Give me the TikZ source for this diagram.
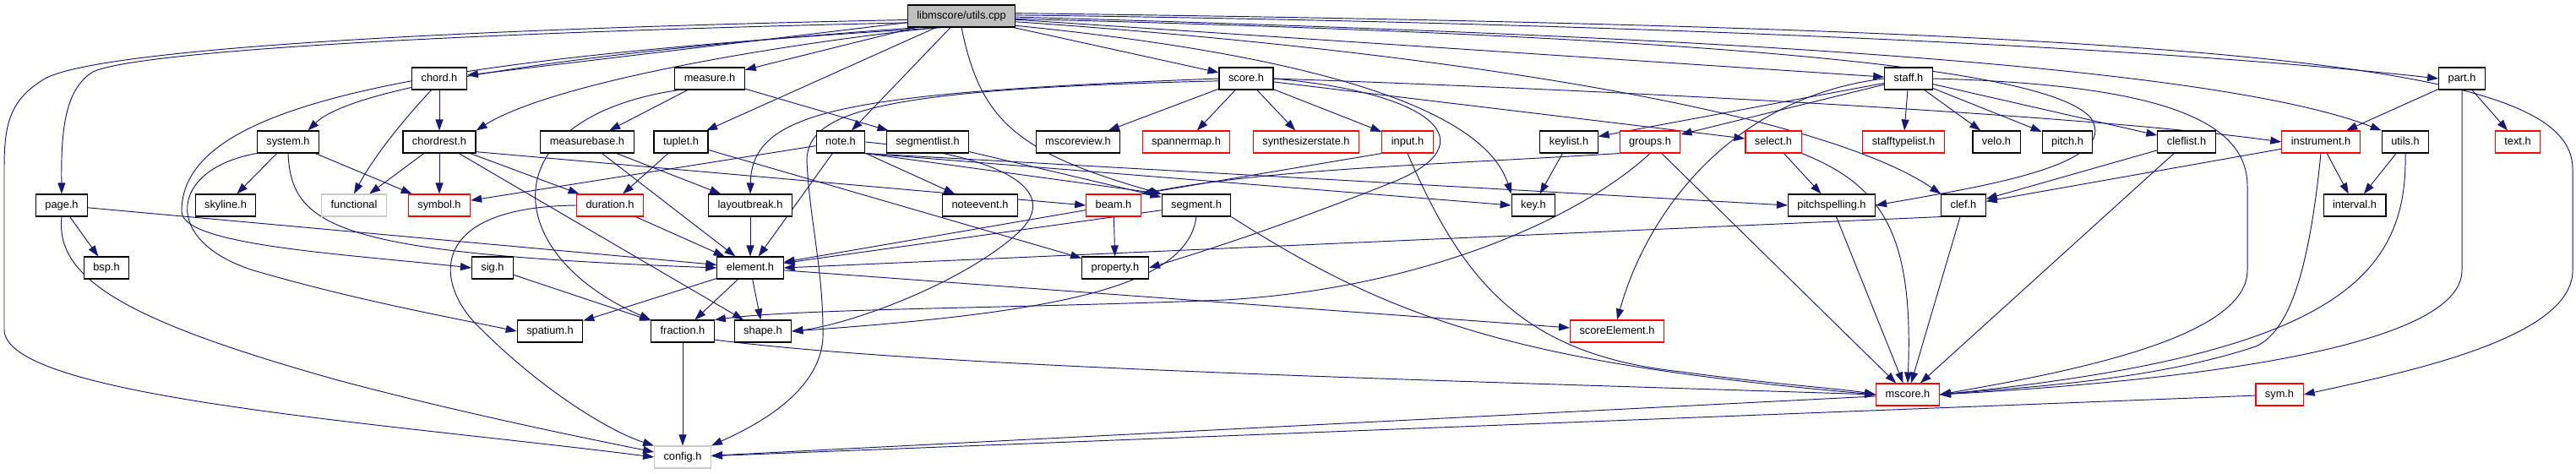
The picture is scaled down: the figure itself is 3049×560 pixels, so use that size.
\documentclass[tikz,border=0pt]{standalone}
\usepackage{fontspec}
\setmainfont{Liberation Sans}
\usepackage{xcolor}
\usepackage{tikz}
\usetikzlibrary{arrows.meta,positioning,calc,backgrounds}

\definecolor{edgeblue}{RGB}{25,25,112}
\definecolor{rootgray}{RGB}{191,191,191}
\definecolor{extgray}{RGB}{200,200,200}

\begin{document}
\begin{tikzpicture}[
    x=1pt, y=-1pt,
    font=\fontsize{12.8}{15}\selectfont,
    filecell/.style={rectangle, draw=black, fill=white, line width=1.1pt, minimum height=26pt,
      inner xsep=11pt, inner ysep=0pt, text height=9.5pt, text depth=2.7pt},
    redcell/.style={filecell, draw=red},
    extcell/.style={filecell, draw=extgray},
    rootcell/.style={filecell, fill=rootgray},
    arrow/.style={-{Triangle[length=13pt,width=9pt]}, draw=edgeblue, line width=0.95pt}
]
\useasboundingbox (0,0) rectangle (3049,560);

% root
\node[rootcell] (utilscpp) at (1138,19) {libmscore/utils.cpp};

% first row
\node[filecell] (chordh) at (520,93) {chord.h};
\node[filecell] (measureh) at (840,93) {measure.h};
\node[filecell] (scoreh) at (1475,93) {score.h};
\node[filecell] (staffh) at (2259,93) {staff.h};
\node[filecell] (parth) at (2914,93) {part.h};

% second row
\node[filecell] (systemh) at (341,168) {system.h};
\node[filecell] (chordresth) at (520,168) {chordrest.h};
\node[filecell] (measurebaseh) at (695,168) {measurebase.h};
\node[filecell] (tupleth) at (806,168) {tuplet.h};
\node[filecell] (noteh) at (995,168) {note.h};
\node[filecell] (segmentlisth) at (1098,168) {segmentlist.h};
\node[filecell] (mscoreviewh) at (1276,168) {mscoreview.h};
\node[redcell] (spannermaph) at (1404,168) {spannermap.h};
\node[redcell] (synthstateh) at (1546,168) {synthesizerstate.h};
\node[redcell] (inputh) at (1666,168) {input.h};
\node[filecell] (keylisth) at (1857,168) {keylist.h};
\node[redcell] (groupsh) at (1953,168) {groups.h};
\node[redcell] (selecth) at (2099,168) {select.h};
\node[redcell] (stafftypelisth) at (2253,168) {stafftypelist.h};
\node[filecell] (veloh) at (2363,168) {velo.h};
\node[filecell] (pitchh) at (2447,168) {pitch.h};
\node[filecell] (cleflisth) at (2588,168) {cleflist.h};
\node[redcell] (instrumenth) at (2747,168) {instrument.h};
\node[filecell] (utilshh) at (2847,168) {utils.h};
\node[redcell] (texth) at (2980,168) {text.h};

% third row
\node[filecell] (pageh) at (73,243) {page.h};
\node[filecell] (skylineh) at (267,243) {skyline.h};
\node[extcell] (functional) at (419,243) {functional};
\node[redcell] (symbolh) at (520,243) {symbol.h};
\node[redcell] (durationh) at (722,243) {duration.h};
\node[filecell] (layoutbreakh) at (888,243) {layoutbreak.h};
\node[filecell] (noteeventh) at (1160,243) {noteevent.h};
\node[redcell] (beamh) at (1318,243) {beam.h};
\node[filecell] (segmenth) at (1416,243) {segment.h};
\node[filecell] (keyh) at (1815,243) {key.h};
\node[filecell] (pitchspellingh) at (2168,243) {pitchspelling.h};
\node[filecell] (clefh) at (2324,243) {clef.h};
\node[filecell] (intervalh) at (2787,243) {interval.h};

% fourth row
\node[filecell] (bsph) at (126,317) {bsp.h};
\node[filecell] (sigh) at (583,317) {sig.h};
\node[filecell] (elementh) at (888,317) {element.h};
\node[filecell] (propertyh) at (1320,317) {property.h};

% fifth row
\node[filecell] (spatiumh) at (651,392) {spatium.h};
\node[filecell] (fractionh) at (808,392) {fraction.h};
\node[filecell] (shapeh) at (903,392) {shape.h};
\node[redcell] (scoreelementh) at (1914,392) {scoreElement.h};

% bottom rows
\node[redcell] (mscoreh) at (2258,467) {mscore.h};
\node[redcell] (symh) at (2698,467) {sym.h};
\node[extcell] (configh) at (808,541) {config.h};

\begin{scope}[on background layer]
% utils.cpp includes
\draw[arrow] (utilscpp.184) .. controls (500,35) and (100,60) .. (50,95) .. controls (10,120) and (5,150) .. (5,200) -- (5,390) .. controls (5,470) and (450,500) .. (configh.west);
\draw[arrow] (utilscpp.187) .. controls (500,40) and (160,62) .. (110,85) .. controls (78,105) and (72,150) .. (pageh.north);
\draw[arrow] (utilscpp.195) .. controls (700,60) and (420,100) .. (systemh.30);
\draw[arrow] (utilscpp) -- (chordh);
\draw[arrow] (utilscpp.205) .. controls (900,55) and (650,100) .. (chordresth.north east);
\draw[arrow] (utilscpp.212) .. controls (500,70) and (215,120) .. (215,250) .. controls (215,290) and (400,300) .. (sigh.west);
\draw[arrow] (utilscpp) -- (measureh);
\draw[arrow] (utilscpp) -- (tupleth);
\draw[arrow] (utilscpp) -- (noteh);
\draw[arrow] (utilscpp.south) .. controls (1160,140) and (1200,180) .. (segmenth.north west);
\draw[arrow] (utilscpp) -- (scoreh);
\draw[arrow] (utilscpp.350) .. controls (1600,70) and (1760,140) .. (keyh.north west);
\draw[arrow] (utilscpp) -- (staffh);
\draw[arrow] (utilscpp.354) .. controls (1700,60) and (2150,130) .. (clefh.north west);
\draw[arrow] (utilscpp.1) .. controls (1800,25) and (2500,50) .. (parth.west);
\draw[arrow] (utilscpp.359) .. controls (1900,40) and (2600,70) .. (utilshh.north west);
\draw[arrow] (utilscpp.3) .. controls (2700,35) and (3045,80) .. (3045,200) -- (3045,320) .. controls (3045,400) and (2850,440) .. (symh.east);
\draw[arrow] (utilscpp.357) .. controls (2100,45) and (2430,85) .. (2475,140) .. controls (2510,195) and (2350,220) .. (pitchspellingh.east);

% chord.h, system.h, chordrest.h, page.h
\draw[arrow] (chordh) -- (chordresth);
\draw[arrow] (chordh.235) .. controls (470,150) and (440,190) .. (functional.north);
\draw[arrow] (systemh) -- (skylineh);
\draw[arrow] (systemh) -- (symbolh);
\draw[arrow] (systemh.south) .. controls (345,270) and (400,300) .. (elementh.west);
\draw[arrow] (systemh.200) .. controls (200,200) and (190,285) .. (300,320) .. controls (420,355) and (530,375) .. (spatiumh.west);
\draw[arrow] (chordresth) -- (functional);
\draw[arrow] (chordresth) -- (symbolh);
\draw[arrow] (chordresth) -- (durationh);
\draw[arrow] (chordresth) -- (shapeh);
\draw[arrow] (chordresth.345) -- (beamh.west);
\draw[arrow] (pageh) -- (bsph);
\draw[arrow] (pageh) -- (elementh);
\draw[arrow] (pageh.south) .. controls (65,330) and (150,380) .. (400,450) .. controls (550,490) and (700,520) .. (configh.170);

% measure.h, tuplet.h, note.h
\draw[arrow] (measureh) -- (measurebaseh);
\draw[arrow] (measureh) -- (segmentlisth);
\draw[arrow] (measureh.200) .. controls (580,140) and (590,300) .. (fractionh.north west);
\draw[arrow] (measurebaseh) -- (elementh);
\draw[arrow] (measurebaseh) -- (layoutbreakh);
\draw[arrow] (tupleth) -- (durationh);
\draw[arrow] (tupleth) -- (propertyh);
\draw[arrow] (noteh) -- (symbolh);
\draw[arrow] (noteh) -- (elementh);
\draw[arrow] (noteh) -- (noteeventh);
\draw[arrow] (noteh.east) .. controls (1200,185) and (1260,230) .. (1200,280) .. controls (1130,340) and (1000,385) .. (shapeh.east);
\draw[arrow] (noteh.south east) -- (pitchspellingh.west);
\draw[arrow] (noteh.south east) -- (keyh.west);
\draw[arrow] (noteh.south east) -- (segmenth.north west);
\draw[arrow] (segmentlisth) -- (segmenth);

% score.h
\draw[arrow] (scoreh) -- (mscoreviewh);
\draw[arrow] (scoreh) -- (spannermaph);
\draw[arrow] (scoreh) -- (synthstateh);
\draw[arrow] (scoreh) -- (inputh);
\draw[arrow] (scoreh.west) .. controls (1000,110) and (890,130) .. (layoutbreakh.north);
\draw[arrow] (scoreh.185) .. controls (1050,105) and (955,130) .. (955,190) .. controls (958,260) and (975,320) .. (974,400) .. controls (970,470) and (880,510) .. (configh.north east);
\draw[arrow] (scoreh) -- (selecth);
\draw[arrow] (scoreh.east) .. controls (2000,110) and (2500,140) .. (instrumenth.west);
\draw[arrow] (scoreh.east) .. controls (1700,110) and (1760,170) .. (1650,215) .. controls (1550,255) and (1450,290) .. (propertyh.east);

% staff.h, part.h
\draw[arrow] (staffh) -- (stafftypelisth);
\draw[arrow] (staffh) -- (veloh);
\draw[arrow] (staffh) -- (pitchh);
\draw[arrow] (staffh) -- (cleflisth);
\draw[arrow] (staffh) -- (keylisth);
\draw[arrow] (staffh) -- (groupsh);
\draw[arrow] (staffh.west) .. controls (2050,115) and (1950,250) .. (scoreelementh.north);
\draw[arrow] (staffh.east) .. controls (2550,100) and (2660,140) .. (2660,220) -- (2660,320) .. controls (2660,400) and (2450,440) .. (mscoreh.east);
\draw[arrow] (parth) -- (instrumenth);
\draw[arrow] (parth) -- (texth);
\draw[arrow] (parth.south) -- (2914,320) .. controls (2914,410) and (2600,450) .. (mscoreh.east);

% utils.h, instrument.h, cleflist.h, clef.h
\draw[arrow] (utilshh) -- (intervalh);
\draw[arrow] (utilshh.south) .. controls (2850,330) and (2760,420) .. (mscoreh.east);
\draw[arrow] (instrumenth) -- (intervalh);
\draw[arrow] (instrumenth) -- (clefh);
\draw[arrow] (instrumenth.south) .. controls (2735,300) and (2715,390) .. (2670,410) .. controls (2550,450) and (2400,458) .. (mscoreh.east);
\draw[arrow] (cleflisth) -- (clefh);
\draw[arrow] (cleflisth) -- (mscoreh);
\draw[arrow] (clefh.south west) -- (elementh.east);
\draw[arrow] (clefh) -- (mscoreh);

% keylist.h, groups.h, select.h, input.h
\draw[arrow] (keylisth) -- (keyh);
\draw[arrow] (groupsh.south west) .. controls (1700,195) and (1500,200) .. (beamh.north east);
\draw[arrow] (groupsh.south) .. controls (1880,250) and (1700,340) .. (1450,355) .. controls (1200,365) and (950,365) .. (fractionh.north east);
\draw[arrow] (groupsh) -- (mscoreh);
\draw[arrow] (selecth) -- (pitchspellingh);
\draw[arrow] (selecth.south east) .. controls (2230,220) and (2265,280) .. (mscoreh.north);
\draw[arrow] (pitchspellingh) -- (mscoreh);
\draw[arrow] (inputh.south west) -- (beamh.north east);
\draw[arrow] (inputh.south) .. controls (1730,330) and (1800,420) .. (1990,440) .. controls (2100,455) and (2180,460) .. (mscoreh.west);

% segment.h, beam.h and below
\draw[arrow] (segmenth) -- (elementh);
\draw[arrow] (segmenth.south) .. controls (1405,340) and (1250,370) .. (shapeh.east);
\draw[arrow] (segmenth.south east) .. controls (1650,380) and (1800,430) .. (mscoreh.west);
\draw[arrow] (beamh) -- (elementh);
\draw[arrow] (beamh) -- (propertyh);
\draw[arrow] (layoutbreakh) -- (elementh);
\draw[arrow] (durationh) -- (elementh);
\draw[arrow] (durationh.west) .. controls (500,245) and (515,340) .. (570,390) .. controls (640,460) and (720,510) .. (configh.north west);
\draw[arrow] (elementh) -- (fractionh);
\draw[arrow] (elementh) -- (shapeh);
\draw[arrow] (elementh) -- (spatiumh);
\draw[arrow] (elementh) -- (scoreelementh);
\draw[arrow] (sigh) -- (fractionh);
\draw[arrow] (fractionh) -- (configh);
\draw[arrow] (fractionh.345) .. controls (1100,435) and (1700,450) .. (mscoreh.west);
\draw[arrow] (mscoreh) -- (configh);
\draw[arrow] (symh) -- (configh);
\end{scope}

\end{tikzpicture}
\end{document}
